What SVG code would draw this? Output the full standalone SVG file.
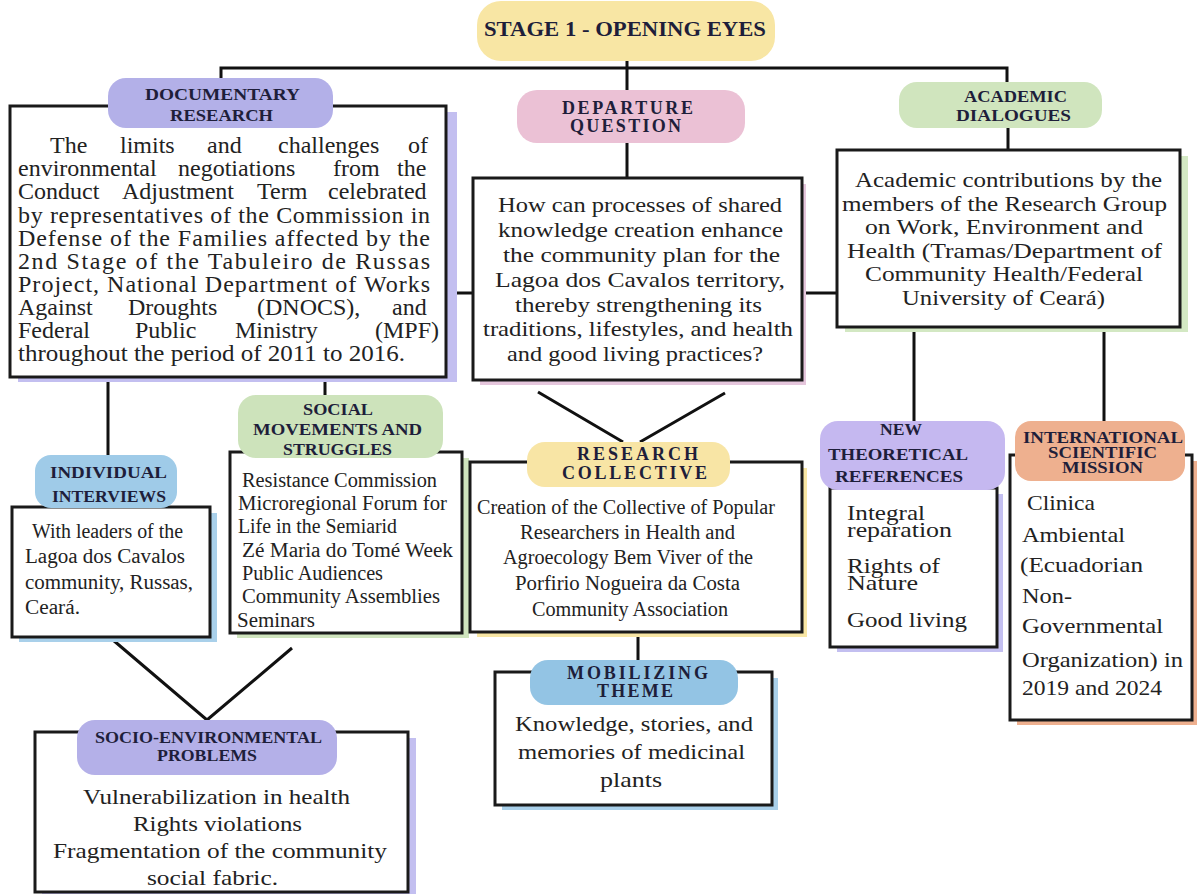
<svg xmlns="http://www.w3.org/2000/svg" width="1200" height="894" viewBox="0 0 1200 894">
<style>
.box{fill:#fff;stroke:#1a1a1a;stroke-width:3}
.conn{stroke:#111;stroke-width:3;fill:none}
.lbl{font-family:"Liberation Serif","Times New Roman",serif;font-weight:bold;font-size:17px;fill:#1e1e3a}
.body{font-family:"Liberation Serif","Times New Roman",serif;font-size:22px;fill:#222}
</style>
<rect width="1200" height="894" fill="#fff"/>
<g id="connectors">
<path class="conn" d="M627 60 V68 M221 80 V68 H1007 V84 M627 68 V92"/>
<path class="conn" d="M627 143 V178"/>
<path class="conn" d="M1008 128 V150"/>
<path class="conn" d="M446 293 H473 M802 293 H838"/>
<path class="conn" d="M108 377 V455 M325 377 V396"/>
<path class="conn" d="M538 392 L623 442 M725 393 L640 442"/>
<path class="conn" d="M638 632 V662"/>
<path class="conn" d="M914 327 V422 M1104 327 V422"/>
<path class="conn" d="M113 640 L207 720 L292 648"/>
</g>
<g id="title">
<rect x="477" y="1" width="298" height="60" rx="24" fill="#f8e6a4"/>
<text class="lbl" x="484" y="36" style="font-size:20px" textLength="282" lengthAdjust="spacingAndGlyphs">STAGE 1 - OPENING EYES</text>
</g>
<g id="documentary">
<rect x="18" y="112" width="439" height="270" fill="#c3bff0"/>
<rect class="box" x="10" y="106" width="436" height="271"/>
<rect x="108" y="78" width="225" height="50" rx="18" fill="#b3b0e8"/>
<text class="lbl" x="145" y="100" textLength="155" lengthAdjust="spacingAndGlyphs">DOCUMENTARY</text>
<text class="lbl" x="170" y="121" textLength="103" lengthAdjust="spacingAndGlyphs">RESEARCH</text>
<g class="body" style="font-size:24px">
<text y="153"><tspan x="50">The</tspan><tspan x="120">limits</tspan><tspan x="207">and</tspan><tspan x="278">challenges</tspan><tspan x="408">of</tspan></text>
<text y="176"><tspan x="18">environmental</tspan><tspan x="178">negotiations</tspan><tspan x="333">from</tspan><tspan x="397">the</tspan></text>
<text y="199"><tspan x="18">Conduct</tspan><tspan x="122">Adjustment</tspan><tspan x="257">Term</tspan><tspan x="328">celebrated</tspan></text>
<text x="18" y="223" textLength="412" lengthAdjust="spacing">by representatives of the Commission in</text>
<text x="18" y="246" textLength="412" lengthAdjust="spacing">Defense of the Families affected by the</text>
<text x="18" y="269" textLength="412" lengthAdjust="spacing">2nd Stage of the Tabuleiro de Russas</text>
<text x="18" y="292" textLength="412" lengthAdjust="spacing">Project, National Department of Works</text>
<text y="315"><tspan x="18">Against</tspan><tspan x="128">Droughts</tspan><tspan x="257">(DNOCS),</tspan><tspan x="392">and</tspan></text>
<text y="338"><tspan x="18">Federal</tspan><tspan x="135">Public</tspan><tspan x="235">Ministry</tspan><tspan x="375">(MPF)</tspan></text>
<text x="18" y="361" textLength="387" lengthAdjust="spacingAndGlyphs">throughout the period of 2011 to 2016.</text>
</g>
</g>
<g id="departure">
<rect x="517" y="90" width="228" height="53" rx="20" fill="#ebc1d5"/>
<text class="lbl" x="562" y="114" style="font-size:18px" textLength="131" lengthAdjust="spacing">DEPARTURE</text>
<text class="lbl" x="570" y="132" style="font-size:18px" textLength="111" lengthAdjust="spacing">QUESTION</text>
</g>
<g id="question">
<rect x="480" y="184" width="326" height="201" fill="#e5c6dc"/>
<rect class="box" x="473" y="178" width="329" height="202"/>
<g class="body">
<text x="498" y="212" textLength="284" lengthAdjust="spacingAndGlyphs">How can processes of shared</text>
<text x="498" y="237" textLength="285" lengthAdjust="spacingAndGlyphs">knowledge creation enhance</text>
<text x="503" y="262" textLength="277" lengthAdjust="spacingAndGlyphs">the community plan for the</text>
<text x="495" y="287" textLength="290" lengthAdjust="spacingAndGlyphs">Lagoa dos Cavalos territory,</text>
<text x="515" y="312" textLength="247" lengthAdjust="spacingAndGlyphs">thereby strengthening its</text>
<text x="483" y="336" textLength="310" lengthAdjust="spacingAndGlyphs">traditions, lifestyles, and health</text>
<text x="507" y="361" textLength="256" lengthAdjust="spacingAndGlyphs">and good living practices?</text>
</g>
</g>
<g id="academic-label">
<rect x="899" y="82" width="203" height="46" rx="18" fill="#d0e5be"/>
<text class="lbl" x="964" y="102" textLength="103" lengthAdjust="spacingAndGlyphs">ACADEMIC</text>
<text class="lbl" x="956" y="121" textLength="115" lengthAdjust="spacingAndGlyphs">DIALOGUES</text>
</g>
<g id="academic">
<rect x="845" y="156" width="343" height="176" fill="#d3e8c3"/>
<rect class="box" x="837" y="150" width="343" height="177"/>
<g class="body" style="font-size:21px">
<text x="855" y="187" textLength="307" lengthAdjust="spacingAndGlyphs">Academic contributions by the</text>
<text x="842" y="211" textLength="325" lengthAdjust="spacingAndGlyphs">members of the Research Group</text>
<text x="865" y="234" textLength="278" lengthAdjust="spacingAndGlyphs">on Work, Environment and</text>
<text x="847" y="258" textLength="315" lengthAdjust="spacingAndGlyphs">Health (Tramas/Department of</text>
<text x="865" y="281" textLength="278" lengthAdjust="spacingAndGlyphs">Community Health/Federal</text>
<text x="902" y="305" textLength="203" lengthAdjust="spacingAndGlyphs">University of Ceará)</text>
</g>
</g>
<g id="social">
<rect x="237" y="458" width="232" height="180" fill="#cfe4bd"/>
<rect class="box" x="230" y="452" width="232" height="181"/>
<rect x="238" y="395" width="205" height="63" rx="18" fill="#cde3bb"/>
<text class="lbl" x="303" y="415" textLength="70" lengthAdjust="spacingAndGlyphs">SOCIAL</text>
<text class="lbl" x="253" y="435" textLength="169" lengthAdjust="spacingAndGlyphs">MOVEMENTS AND</text>
<text class="lbl" x="283" y="455" textLength="109" lengthAdjust="spacingAndGlyphs">STRUGGLES</text>
<g class="body" style="font-size:20px">
<text x="242" y="487" textLength="195" lengthAdjust="spacingAndGlyphs">Resistance Commission</text>
<text x="238" y="510" textLength="209" lengthAdjust="spacingAndGlyphs">Microregional Forum for</text>
<text x="238" y="533" textLength="159" lengthAdjust="spacingAndGlyphs">Life in the Semiarid</text>
<text x="242" y="557" textLength="211" lengthAdjust="spacingAndGlyphs">Zé Maria do Tomé Week</text>
<text x="242" y="580" textLength="141" lengthAdjust="spacingAndGlyphs">Public Audiences</text>
<text x="242" y="603" textLength="198" lengthAdjust="spacingAndGlyphs">Community Assemblies</text>
<text x="237" y="627" textLength="78" lengthAdjust="spacingAndGlyphs">Seminars</text>
</g>
</g>
<g id="interviews">
<rect x="19" y="513" width="198" height="129" fill="#a9d0ea"/>
<rect class="box" x="12" y="507" width="198" height="130"/>
<rect x="35" y="455" width="142" height="53" rx="16" fill="#9fcbe8"/>
<text class="lbl" x="50" y="478" textLength="117" lengthAdjust="spacingAndGlyphs">INDIVIDUAL</text>
<text class="lbl" x="52" y="502" textLength="114" lengthAdjust="spacingAndGlyphs">INTERVIEWS</text>
<g class="body" style="font-size:20px">
<text x="32" y="538" textLength="151" lengthAdjust="spacingAndGlyphs">With leaders of the</text>
<text x="25" y="563" textLength="160" lengthAdjust="spacingAndGlyphs">Lagoa dos Cavalos</text>
<text x="25" y="589" textLength="168" lengthAdjust="spacingAndGlyphs">community, Russas,</text>
<text x="25" y="614" textLength="55" lengthAdjust="spacingAndGlyphs">Ceará.</text>
</g>
</g>
<g id="collective">
<rect x="477" y="468" width="330" height="169" fill="#f8e6a4"/>
<rect class="box" x="470" y="462" width="332" height="170"/>
<rect x="527" y="442" width="203" height="45" rx="18" fill="#f8e5a5"/>
<text class="lbl" x="577" y="460" style="font-size:18px" textLength="121" lengthAdjust="spacing">RESEARCH</text>
<text class="lbl" x="562" y="479" style="font-size:18px" textLength="145" lengthAdjust="spacing">COLLECTIVE</text>
<g class="body" style="font-size:20px">
<text x="477" y="514" textLength="298" lengthAdjust="spacingAndGlyphs">Creation of the Collective of Popular</text>
<text x="520" y="539" textLength="215" lengthAdjust="spacingAndGlyphs">Researchers in Health and</text>
<text x="503" y="564" textLength="250" lengthAdjust="spacingAndGlyphs">Agroecology Bem Viver of the</text>
<text x="515" y="590" textLength="225" lengthAdjust="spacingAndGlyphs">Porfirio Nogueira da Costa</text>
<text x="532" y="616" textLength="196" lengthAdjust="spacingAndGlyphs">Community Association</text>
</g>
</g>
<g id="mobilizing">
<rect x="502" y="678" width="276" height="132" fill="#a9d0ea"/>
<rect class="box" x="495" y="672" width="277" height="133"/>
<rect x="530" y="660" width="208" height="45" rx="18" fill="#93c4e4"/>
<text class="lbl" x="567" y="679" style="font-size:18px" textLength="141" lengthAdjust="spacing">MOBILIZING</text>
<text class="lbl" x="597" y="697" style="font-size:18px" textLength="76" lengthAdjust="spacing">THEME</text>
<g class="body">
<text x="515" y="731" textLength="238" lengthAdjust="spacingAndGlyphs">Knowledge, stories, and</text>
<text x="518" y="759" textLength="227" lengthAdjust="spacingAndGlyphs">memories of medicinal</text>
<text x="600" y="787" textLength="62" lengthAdjust="spacingAndGlyphs">plants</text>
</g>
</g>
<g id="socio">
<rect x="42" y="738" width="374" height="160" fill="#c3bff0"/>
<rect class="box" x="35" y="732" width="373" height="160"/>
<rect x="77" y="720" width="260" height="55" rx="18" fill="#b4b0e8"/>
<text class="lbl" x="95" y="743" textLength="227" lengthAdjust="spacingAndGlyphs">SOCIO-ENVIRONMENTAL</text>
<text class="lbl" x="157" y="761" textLength="100" lengthAdjust="spacingAndGlyphs">PROBLEMS</text>
<g class="body">
<text x="83" y="804" textLength="267" lengthAdjust="spacingAndGlyphs">Vulnerabilization in health</text>
<text x="133" y="831" textLength="169" lengthAdjust="spacingAndGlyphs">Rights violations</text>
<text x="53" y="858" textLength="334" lengthAdjust="spacingAndGlyphs">Fragmentation of the community</text>
<text x="147" y="885" textLength="131" lengthAdjust="spacingAndGlyphs">social fabric.</text>
</g>
</g>
<g id="theoretical">
<rect x="837" y="494" width="166" height="158" fill="#c3bff0"/>
<rect class="box" x="830" y="488" width="167" height="159"/>
<rect x="820" y="421" width="185" height="69" rx="18" fill="#c5b8f0"/>
<text class="lbl" x="880" y="435" textLength="42" lengthAdjust="spacingAndGlyphs">NEW</text>
<text class="lbl" x="828" y="460" textLength="140" lengthAdjust="spacingAndGlyphs">THEORETICAL</text>
<text class="lbl" x="835" y="482" textLength="128" lengthAdjust="spacingAndGlyphs">REFERENCES</text>
<g class="body">
<text x="847" y="520" textLength="78" lengthAdjust="spacingAndGlyphs">Integral</text>
<text x="847" y="537" textLength="105" lengthAdjust="spacingAndGlyphs">reparation</text>
<text x="847" y="573" textLength="93" lengthAdjust="spacingAndGlyphs">Rights of</text>
<text x="847" y="590" textLength="71" lengthAdjust="spacingAndGlyphs">Nature</text>
<text x="847" y="627" textLength="120" lengthAdjust="spacingAndGlyphs">Good living</text>
</g>
</g>
<g id="international">
<rect x="1017" y="461" width="180" height="264" fill="#eeb08f"/>
<rect class="box" x="1010" y="455" width="182" height="265"/>
<rect x="1015" y="421" width="170" height="60" rx="16" fill="#eeb08f"/>
<text class="lbl" x="1023" y="443" textLength="160" lengthAdjust="spacingAndGlyphs">INTERNATIONAL</text>
<text class="lbl" x="1048" y="458" textLength="109" lengthAdjust="spacingAndGlyphs">SCIENTIFIC</text>
<text class="lbl" x="1062" y="473" textLength="81" lengthAdjust="spacingAndGlyphs">MISSION</text>
<g class="body">
<text x="1027" y="510" textLength="68" lengthAdjust="spacingAndGlyphs">Clinica</text>
<text x="1022" y="542" textLength="103" lengthAdjust="spacingAndGlyphs">Ambiental</text>
<text x="1020" y="572" textLength="123" lengthAdjust="spacingAndGlyphs">(Ecuadorian</text>
<text x="1022" y="603" textLength="50" lengthAdjust="spacingAndGlyphs">Non-</text>
<text x="1022" y="633" textLength="141" lengthAdjust="spacingAndGlyphs">Governmental</text>
<text x="1022" y="667" textLength="161" lengthAdjust="spacingAndGlyphs">Organization) in</text>
<text x="1022" y="695" textLength="140" lengthAdjust="spacingAndGlyphs">2019 and 2024</text>
</g>
</g>
</svg>
